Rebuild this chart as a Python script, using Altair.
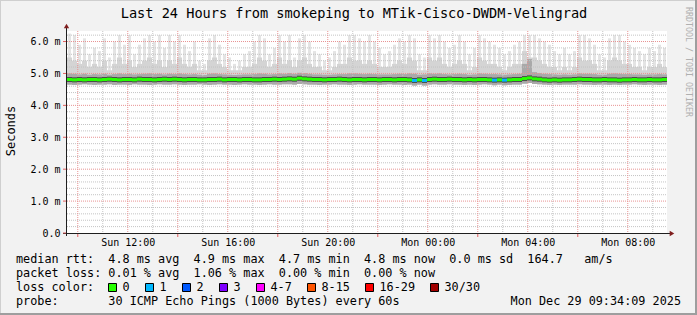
import altair as alt
import pandas as pd
from datetime import datetime, timedelta

# ---------------- data ----------------
TITLE = "Last 24 Hours from smokeping to MTik-Cisco-DWDM-Velingrad"
START = datetime(2025, 12, 28, 9, 34, 9)
END = START + timedelta(hours=24)
BIN = timedelta(minutes=12)

# highest ping per 12-minute bin (seconds * 1000 -> "m")
top = [6.25, 6.2, 5.9, 6.1, 5.6, 5.8, 5.7, 6.1, 5.5, 6.0, 6.2, 5.9, 6.2, 5.6, 5.9, 6.1, 6.2, 6.0, 6.2, 5.8,
       6.2, 6.0, 6.2, 5.9, 5.7, 6.0, 5.4, 5.3, 6.1, 6.2, 5.9, 5.6, 5.5, 5.3, 5.4, 5.6, 5.7, 6.0, 6.2, 6.1,
       5.6, 5.8, 6.2, 6.0, 6.2, 5.5, 6.1, 6.2, 6.0, 5.7, 5.6, 5.4, 5.5, 5.7, 6.0, 5.9, 6.2, 6.2, 6.1, 6.0,
       6.2, 6.0, 5.8, 5.6, 5.7, 5.9, 6.1, 6.0, 6.2, 6.1, 5.6, 5.5, 6.2, 6.1, 6.2, 6.0, 5.8, 5.9, 6.2, 6.0,
       5.6, 5.8, 6.2, 6.1, 6.0, 5.9, 5.8, 5.6, 5.7, 5.9, 6.0, 6.2, 6.2, 6.2, 6.1, 6.0, 5.9, 5.7, 5.6, 5.8,
       5.6, 5.7, 6.2, 6.2, 6.1, 5.9, 5.6, 5.5, 6.1, 6.2, 6.2, 6.0, 5.9, 5.8, 5.7, 5.6, 5.8, 5.7, 5.9, 5.8]
# upper edge of the denser light smoke
upper = [5.5, 5.4, 5.3, 5.4, 5.2, 5.3, 5.2, 5.4, 5.1, 5.3, 5.5, 5.3, 5.4, 5.2, 5.3, 5.4, 5.5, 5.3, 5.4, 5.2,
         5.4, 5.3, 5.5, 5.3, 5.2, 5.3, 5.1, 5.1, 5.4, 5.5, 5.3, 5.2, 5.1, 5.1, 5.1, 5.2, 5.2, 5.3, 5.5, 5.4,
         5.2, 5.3, 5.5, 5.3, 5.4, 5.2, 5.4, 5.5, 5.3, 5.2, 5.2, 5.1, 5.1, 5.2, 5.3, 5.3, 5.5, 5.4, 5.4, 5.3,
         5.4, 5.3, 5.2, 5.2, 5.2, 5.3, 5.4, 5.3, 5.5, 5.4, 5.1, 5.1, 5.5, 5.4, 5.5, 5.3, 5.2, 5.3, 5.4, 5.3,
         5.1, 5.2, 5.5, 5.4, 5.3, 5.3, 5.2, 5.1, 5.2, 5.3, 5.3, 5.7, 5.5, 5.5, 5.4, 5.3, 5.2, 5.2, 5.1, 5.2,
         5.1, 5.2, 5.5, 5.4, 5.4, 5.3, 5.1, 5.1, 5.4, 5.5, 5.4, 5.3, 5.3, 5.2, 5.2, 5.1, 5.2, 5.2, 5.3, 5.2]
# upper edge of the dark core smoke
inner_hi = [5.00, 4.99, 4.97, 4.99, 4.96, 4.98, 4.97, 4.99, 4.96, 4.98, 5.00, 4.98, 4.99, 4.97, 4.98, 4.99, 5.00, 4.98, 4.99, 4.97,
            4.99, 4.98, 5.00, 4.98, 4.97, 4.98, 4.96, 4.95, 4.99, 5.00, 4.98, 4.97, 4.96, 4.95, 4.96, 4.97, 4.97, 4.98, 5.00, 4.99,
            4.97, 4.98, 5.00, 4.99, 5.01, 4.99, 5.02, 5.01, 4.99, 4.97, 4.97, 4.96, 4.96, 4.97, 4.98, 4.98, 5.00, 5.00, 4.99, 4.98,
            4.99, 4.98, 4.97, 4.97, 4.97, 4.98, 4.99, 4.98, 5.00, 4.99, 4.96, 4.97, 5.00, 4.99, 5.00, 4.98, 4.97, 4.98, 4.99, 4.98,
            4.96, 4.97, 5.00, 4.99, 4.98, 4.98, 4.97, 4.96, 4.97, 4.98, 4.99, 5.30, 5.45, 5.04, 5.01, 4.99, 4.98, 4.97, 4.96, 4.97,
            4.96, 4.97, 5.00, 4.99, 4.99, 4.98, 4.96, 4.96, 4.99, 5.00, 4.99, 4.98, 4.98, 4.97, 4.97, 4.96, 4.97, 4.97, 4.98, 4.97]
# lowest ping per bin
lo = [4.65, 4.64, 4.65, 4.66, 4.65, 4.64, 4.65, 4.65, 4.66, 4.64, 4.65, 4.65, 4.64, 4.66, 4.65, 4.65, 4.64, 4.65, 4.66, 4.65,
      4.65, 4.66, 4.65, 4.64, 4.65, 4.65, 4.66, 4.65, 4.64, 4.65, 4.66, 4.65, 4.65, 4.64, 4.65, 4.66, 4.65, 4.65, 4.64, 4.65,
      4.66, 4.65, 4.65, 4.66, 4.66, 4.65, 4.67, 4.66, 4.65, 4.65, 4.64, 4.65, 4.65, 4.66, 4.65, 4.65, 4.64, 4.65, 4.66, 4.65,
      4.65, 4.65, 4.64, 4.65, 4.66, 4.65, 4.65, 4.64, 4.65, 4.62, 4.65, 4.62, 4.65, 4.66, 4.65, 4.65, 4.66, 4.65, 4.65, 4.64,
      4.65, 4.64, 4.65, 4.66, 4.65, 4.63, 4.65, 4.63, 4.64, 4.65, 4.65, 4.68, 4.70, 4.67, 4.66, 4.65, 4.64, 4.65, 4.64, 4.65,
      4.65, 4.65, 4.66, 4.65, 4.65, 4.64, 4.65, 4.65, 4.64, 4.65, 4.64, 4.65, 4.65, 4.66, 4.65, 4.64, 4.65, 4.65, 4.64, 4.65]
# median rtt per bin
median = [4.81, 4.80, 4.81, 4.80, 4.81, 4.81, 4.80, 4.81, 4.82, 4.81, 4.80, 4.81, 4.81, 4.80, 4.82, 4.81, 4.81, 4.80, 4.81, 4.82,
          4.81, 4.82, 4.81, 4.80, 4.81, 4.81, 4.80, 4.80, 4.81, 4.81, 4.82, 4.80, 4.81, 4.81, 4.80, 4.81, 4.81, 4.80, 4.80, 4.81,
          4.81, 4.82, 4.81, 4.82, 4.83, 4.82, 4.85, 4.83, 4.82, 4.81, 4.81, 4.80, 4.81, 4.81, 4.82, 4.81, 4.80, 4.81, 4.81, 4.80,
          4.81, 4.81, 4.80, 4.81, 4.81, 4.80, 4.81, 4.81, 4.80, 4.78, 4.80, 4.78, 4.81, 4.82, 4.81, 4.81, 4.82, 4.81, 4.81, 4.80,
          4.81, 4.80, 4.81, 4.81, 4.80, 4.79, 4.80, 4.79, 4.80, 4.81, 4.81, 4.84, 4.86, 4.83, 4.82, 4.80, 4.79, 4.80, 4.79, 4.80,
          4.80, 4.81, 4.82, 4.81, 4.81, 4.80, 4.80, 4.81, 4.80, 4.80, 4.79, 4.80, 4.80, 4.81, 4.80, 4.80, 4.81, 4.80, 4.80, 4.81]
# lost pings (of 30) per bin
loss = [0] * 120
for _i in (69, 71, 85, 87):
    loss[_i] = 1

loss_labels = ["0", "1", "2", "3", "4-7", "8-15", "16-29", "30/30"]
loss_colors = ["#26ff00", "#00b8ff", "#0059ff", "#7e00ff", "#ff00ff", "#ff5500", "#ff0000", "#a10000"]

stats_line1 = "median rtt:  4.8 ms avg  4.9 ms max  4.7 ms min  4.8 ms now  0.0 ms sd  164.7   am/s"
stats_line2 = "packet loss: 0.01 % avg  1.06 % max  0.00 % min  0.00 % now"
stats_line3 = "loss color:"
probe_line = "probe:       30 ICMP Echo Pings (1000 Bytes) every 60s"
stamp = "Mon Dec 29 09:34:09 2025"
watermark = "RRDTOOL / TOBI OETIKER"
y_title = "Seconds"

# ---------------- build ----------------
W, H = 600, 202
OX, OY = 67, 31           # plot origin inside the 697x315 page
MONO = "DejaVu Sans Mono"
NB = "\u00a0"


def mono(s):
    return s.replace(" ", NB)


def iso(d):
    return d.strftime("%Y-%m-%dT%H:%M:%S")


def dt(d):
    return alt.DateTime(year=d.year, month=d.month, date=d.day,
                        hours=d.hour, minutes=d.minute, seconds=d.second)


def loss_label(k):
    if k <= 3:
        return str(k)
    if k <= 7:
        return "4-7"
    if k <= 15:
        return "8-15"
    if k <= 29:
        return "16-29"
    return "30/30"


n = len(median)
df = pd.DataFrame({
    "t0": [iso(START + BIN * i) for i in range(n)],
    "t1": [iso(START + BIN * (i + 1)) for i in range(n)],
    "tm": [iso(START + BIN * i + BIN / 2) for i in range(n)],
    "lo": lo, "inner": inner_hi, "upper": upper, "top": top, "median": median,
    "loss": [loss_label(k) for k in loss],
})

xscale = alt.Scale(domain=[dt(START), dt(END)])
yscale = alt.Scale(domain=[0, 6.33], nice=False, zero=False)

label_times = [datetime(2025, 12, 28, 12), datetime(2025, 12, 28, 16), datetime(2025, 12, 28, 20),
               datetime(2025, 12, 29, 0), datetime(2025, 12, 29, 4), datetime(2025, 12, 29, 8)]
xaxis = alt.Axis(values=[dt(d) for d in label_times], format="%a %H:%M", formatType="time",
                 domain=False, ticks=False, grid=False, title=None, labelFont=MONO,
                 labelFontSize=10, labelColor="#000000", labelPadding=4,
                 labelOverlap=False, labelFlush=False)
yaxis = alt.Axis(values=[0, 1, 2, 3, 4, 5, 6],
                 labelExpr="datum.value == 0 ? '0.0' : format(datum.value, '.1f') + ' m'",
                 domain=False, ticks=False, grid=False, title=None, labelFont=MONO,
                 labelFontSize=10, labelColor="#000000", labelPadding=7)


def X(f):
    return alt.X(f, type="temporal", scale=xscale, axis=xaxis)


def Y(f):
    return alt.Y(f, type="quantitative", scale=yscale, axis=yaxis)


one = pd.DataFrame({"a": [0]})
layers = []

base = alt.Chart(df)
# smoke
layers.append(base.mark_rule(color="#E4E4E4", strokeWidth=3).encode(x=X("tm"), y=Y("lo"), y2="top"))
layers.append(base.mark_rect(color="#D4D4D4").encode(x=X("t0"), x2="t1", y=Y("lo"), y2="upper"))
layers.append(base.mark_rect(color="#A9A9A9").encode(x=X("t0"), x2="t1", y=Y("lo"), y2="inner"))

# grid
hours = [START.replace(minute=0, second=0) + timedelta(hours=h) for h in range(1, 25)]
vgrid = pd.DataFrame({"t": [iso(h) for h in hours], "major": [h.hour % 2 == 0 for h in hours]})
hvals = [round(0.2 * k, 1) for k in range(1, 32)]
hgrid = pd.DataFrame({"v": hvals, "major": [abs(v - round(v)) < 1e-9 for v in hvals]})

layers.append(alt.Chart(vgrid[~vgrid.major]).mark_rule(color="#C4C4C4", strokeDash=[1, 1], strokeWidth=1)
              .encode(x=X("t"), y=alt.value(0), y2=alt.value(H)))
layers.append(alt.Chart(hgrid[~hgrid.major]).mark_rule(color="#C4C4C4", strokeDash=[1, 1], strokeWidth=1)
              .encode(y=Y("v"), x=alt.value(0), x2=alt.value(W)))
layers.append(alt.Chart(vgrid[vgrid.major]).mark_rule(color="#E89393", strokeDash=[1, 1], strokeWidth=1)
              .encode(x=X("t"), y=alt.value(0), y2=alt.value(H)))
layers.append(alt.Chart(hgrid[hgrid.major]).mark_rule(color="#E89393", strokeDash=[1, 1], strokeWidth=1)
              .encode(y=Y("v"), x=alt.value(0), x2=alt.value(W)))

# median line, coloured by loss
layers.append(base.mark_rule(color="#4A4A4A", strokeWidth=5).encode(x=X("t0"), x2="t1", y=Y("median")))
layers.append(base.mark_rule(strokeWidth=3).encode(
    x=X("t0"), x2="t1", y=Y("median"),
    color=alt.Color("loss:N", scale=alt.Scale(domain=loss_labels, range=loss_colors), legend=None)))

# axes lines, ticks and arrows
layers.append(alt.Chart(one).mark_rule(color="#1F1F1F").encode(
    x=alt.value(-0.5), y=alt.value(-5), y2=alt.value(H + 3)))
layers.append(alt.Chart(one).mark_rule(color="#1F1F1F").encode(
    y=alt.value(H + 0.5), x=alt.value(-4), x2=alt.value(W + 4)))
ytick = pd.DataFrame({"v": [0, 1, 2, 3, 4, 5, 6]})
layers.append(alt.Chart(ytick).mark_rule(color="#E06060").encode(y=Y("v"), x=alt.value(-4), x2=alt.value(-1)))
tick_times = [h for h in hours if h.hour % 4 == 2]
xtick = pd.DataFrame({"t": [iso(h) for h in tick_times]})
layers.append(alt.Chart(xtick).mark_rule(color="#E06060").encode(x=X("t"), y=alt.value(H + 1), y2=alt.value(H + 4)))
layers.append(alt.Chart(one).mark_point(shape="triangle-up", filled=True, color="#801F1F", size=28, opacity=1)
              .encode(x=alt.value(-0.5), y=alt.value(-5)))
layers.append(alt.Chart(one).mark_point(shape="triangle-right", filled=True, color="#801F1F", size=28, opacity=1)
              .encode(x=alt.value(W + 5), y=alt.value(H + 0.5)))


def text(s, x, y, size=11.8, align="left", baseline="middle", angle=0, color="#000000"):
    return alt.Chart(one).mark_text(text=mono(s), font=MONO, fontSize=size, align=align,
                                    baseline=baseline, angle=angle, color=color).encode(
        x=alt.value(x - OX), y=alt.value(y - OY))


layers.append(text(TITLE, 354, 18, size=13.6, align="center", baseline="alphabetic"))
layers.append(text(y_title, 11, 131, size=12, align="center", angle=270))
layers.append(text(watermark, 688, 62, size=8.3, align="center", angle=90, color="#B0B0B0"))
layers.append(text(stats_line1, 16, 259))
layers.append(text(stats_line2, 16, 273))
layers.append(text(stats_line3, 16, 287))
layers.append(text(probe_line, 16, 301))
layers.append(text(stamp, 681, 301, align="right"))

# loss colour swatches
bx = 108.0
for lab, col in zip(loss_labels, loss_colors):
    layers.append(alt.Chart(one).mark_rect(fill=col, stroke="#000000", strokeWidth=1).encode(
        x=alt.value(bx - OX + 0.5), x2=alt.value(bx - OX + 8.5),
        y=alt.value(283 - OY + 0.5), y2=alt.value(291 - OY + 0.5)))
    layers.append(text(lab, bx + 14.5, 287))
    bx += 30 + 7 * len(lab)

# page border shading
layers.append(alt.Chart(one).mark_rule(color="#CFCFCF", strokeWidth=1).encode(
    x=alt.value(-OX + 0.5), y=alt.value(-OY), y2=alt.value(315 - OY)))
layers.append(alt.Chart(one).mark_rule(color="#CFCFCF", strokeWidth=1).encode(
    y=alt.value(-OY + 0.5), x=alt.value(-OX), x2=alt.value(697 - OX)))
layers.append(alt.Chart(one).mark_rule(color="#9E9E9E", strokeWidth=2).encode(
    x=alt.value(697 - OX - 1), y=alt.value(-OY), y2=alt.value(315 - OY)))
layers.append(alt.Chart(one).mark_rule(color="#9E9E9E", strokeWidth=2).encode(
    y=alt.value(315 - OY - 1), x=alt.value(-OX), x2=alt.value(697 - OX)))

chart = alt.layer(*layers).properties(
    width=W, height=H,
    padding={"left": OX, "top": OY, "right": 697 - OX - W, "bottom": 315 - OY - H},
    autosize=alt.AutoSizeParams(type="none"),
    background="#F2F2F2",
).configure_view(stroke=None, fill="#FFFFFF")

chart.save("out.html", embed_options={"renderer": "svg", "actions": False})
